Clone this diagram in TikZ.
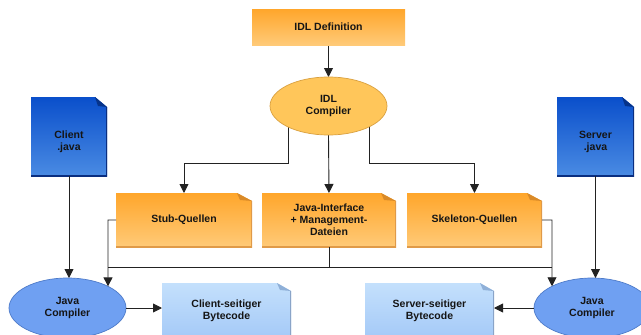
\documentclass[tikz,border=0pt]{standalone}
\usepackage{fontspec}
\setmainfont{Liberation Sans}
\usetikzlibrary{arrows.meta,shapes.geometric,intersections,calc,backgrounds}
\definecolor{orT}{HTML}{FFA62B}
\definecolor{orB}{HTML}{FFCA78}
\definecolor{orD}{HTML}{D98A28}
\definecolor{orE}{HTML}{E09A48}
\definecolor{elO}{HTML}{FFC65A}
\definecolor{elOd}{HTML}{D9A040}
\definecolor{bdT}{HTML}{0A4FCB}
\definecolor{bdB}{HTML}{4A8BE3}
\definecolor{bdD}{HTML}{06338A}
\definecolor{bdE}{HTML}{0A2E80}
\definecolor{lbT}{HTML}{C4E0FC}
\definecolor{lbB}{HTML}{A4C9F7}
\definecolor{lbD}{HTML}{8FB0D8}
\definecolor{lbE}{HTML}{8AA4C8}
\definecolor{jcF}{HTML}{6FA0F2}
\definecolor{jcE}{HTML}{4E7BC9}
\definecolor{lnC}{HTML}{222222}
\definecolor{txC}{HTML}{151515}
\begin{document}
\begin{tikzpicture}[x=1pt,y=-1pt,
  every node/.style={font=\fontsize{10.5}{12}\selectfont\bfseries, text=txC, align=center, inner sep=0pt, outer sep=0pt},
  plainbox/.style={shape=rectangle, top color=orT, bottom color=orB, draw=none},
  ell/.style={shape=ellipse, line width=0.7pt},
  foldbox/.style n args={6}{shape=rectangle, fill=white, draw=none,
    path picture={
      \shade[top color=#1,bottom color=#2]
        (path picture bounding box.south west) -- (path picture bounding box.north west)
        -- ([xshift=-#5pt]path picture bounding box.north east)
        -- ([yshift=-#6pt]path picture bounding box.north east)
        -- (path picture bounding box.south east) -- cycle;
      \fill[#3] ([xshift=-#5pt]path picture bounding box.north east)
        -- ([yshift=-#6pt]path picture bounding box.north east)
        -- ([xshift=-#5pt+3pt, yshift=-#6pt+1pt]path picture bounding box.north east) -- cycle;
      \draw[#4, line width=2pt]
        ([yshift=-#6pt]path picture bounding box.north east)
        -- (path picture bounding box.south east)
        -- (path picture bounding box.south west);
    }},
  orbox/.style={foldbox={orT}{orB}{orD}{orE}{15}{8}},
  dbbox/.style={foldbox={bdT}{bdB}{bdD}{bdE}{12}{10}},
  lbbox/.style={foldbox={lbT}{lbB}{lbD}{lbE}{14}{8}},
  ln/.style={draw=lnC, line width=0.9pt},
  arr/.style={draw=lnC, line width=0.9pt, -{Triangle[width=9pt,length=9pt]}}
]
\useasboundingbox (0,0) rectangle (641,335);

% nodes
\node[plainbox, minimum width=153pt, minimum height=36pt] (idl) at (328.5,27) {IDL Definition};
\node[ell, fill=elO, draw=elOd, minimum width=117pt, minimum height=58pt] (idlc) at (328.5,106) {IDL\\Compiler};

\node[orbox, minimum width=136pt, minimum height=54pt] (stub) at (184,220) {Stub-Quellen};
\node[orbox, minimum width=134pt, minimum height=54pt] (jint) at (329,220) {Java-Interface\\+ Management-\\Dateien};
\node[orbox, minimum width=135pt, minimum height=54pt] (skel) at (474.5,220) {Skeleton-Quellen};

\node[dbbox, minimum width=76pt, minimum height=79pt] (cj) at (69,136.5) {};
\node (cjt) at ($(cj.center)+(0,5)$) {Client\\.java};
\node[dbbox, minimum width=77pt, minimum height=79pt] (sj) at (595.5,136.5) {};
\node (sjt) at ($(sj.center)+(0,5)$) {Server\\.java};

\node[ell, fill=jcF, draw=jcE, minimum width=117pt, minimum height=60pt] (jc1) at (67.5,308) {Java\\Compiler};
\node[ell, fill=jcF, draw=jcE, minimum width=116pt, minimum height=60pt] (jc2) at (592,308) {Java\\Compiler};

\node[lbbox, minimum width=129pt, minimum height=56pt] (cb) at (226.5,311) {Client-seitiger\\Bytecode};
\node[lbbox, minimum width=129pt, minimum height=56pt] (sb) at (429.5,311) {Server-seitiger\\Bytecode};

% helper paths for arrow ends on the compiler ellipses
\path[name path=e1] (jc1.center) ellipse[x radius=58.5pt, y radius=30pt];
\path[name path=e2] (jc2.center) ellipse[x radius=58pt, y radius=30pt];
\path[name path=v1] ($(stub.west)+(-8,0)$) -- ++(0,120);
\path[name path=v2] ($(skel.east)+(10,0)$) -- ++(0,120);
\path[name intersections={of=e1 and v1, by=p1}];
\path[name intersections={of=e2 and v2, by=p2}];

\begin{scope}[on background layer]
  \draw[arr] (idl.south) -- (idlc.north);
  \draw[arr] ($(idlc.center)+(-40.5,0)$) |- ($(stub.north)+(0,-30)$) -- (stub.north);
  \draw[arr] (idlc.south) -- (jint.north);
  \draw[arr] ($(idlc.center)+(40.5,0)$) |- ($(skel.north)+(0,-30)$) -- (skel.north);
\end{scope}

\coordinate (hl) at ($(stub.west)+(-8,47)$);
\coordinate (hr) at ($(skel.east)+(10,47)$);
\draw[ln] (hl) -- (hr);
\draw[ln] (jint.south) -- (jint.south |- hl);
\draw[arr] (stub.west) -- ++(-8,0) -- (p1);
\draw[arr] (skel.east) -- ++(10,0) -- (p2);

\draw[arr] (cj.south) -- (cj.south |- jc1.north);
\draw[arr] (sj.south) -- (sj.south |- jc2.north);

\draw[arr] (jc1.east) -- (jc1.east -| cb.west);
\draw[arr] (jc2.west) -- (jc2.west -| sb.east);
\end{tikzpicture}
\end{document}
